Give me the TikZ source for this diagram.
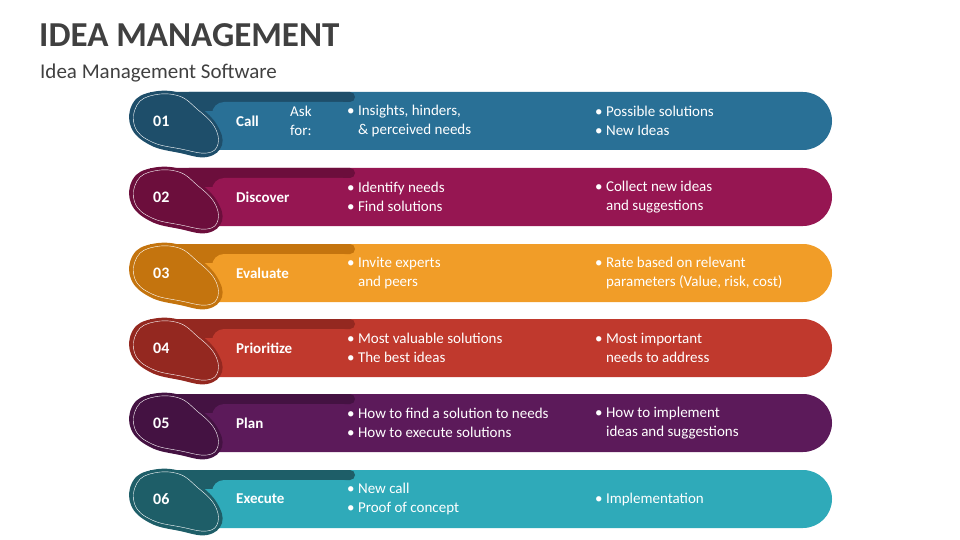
\documentclass[tikz,border=0pt]{standalone}
\usepackage{fontspec}
\setmainfont{Carlito}
\definecolor{m1}{RGB}{41,112,150}\definecolor{d1}{RGB}{30,78,106}
\definecolor{m2}{RGB}{150,22,82}\definecolor{d2}{RGB}{108,14,60}
\definecolor{m3}{RGB}{241,157,40}\definecolor{d3}{RGB}{196,116,14}
\definecolor{m4}{RGB}{192,57,45}\definecolor{d4}{RGB}{148,40,32}
\definecolor{m5}{RGB}{92,26,90}\definecolor{d5}{RGB}{68,18,66}
\definecolor{m6}{RGB}{47,170,185}\definecolor{d6}{RGB}{30,94,104}
\definecolor{ttl}{RGB}{64,64,64}
\tikzset{wt/.style={text=white,font=\fontsize{15}{19}\selectfont,anchor=west,align=left,inner sep=0pt},
 bt/.style={wt,font=\bfseries\fontsize{15}{19}\selectfont}}
\newcommand{\rowx}[7]{%
 \begin{scope}[yshift=#1]
 \fill[#2,rounded corners=29pt] (160,-29) -- (832,-29) -- (832,29) -- (160,29) -- cycle;
 \fill[#3,rounded corners=5pt] (150,-29) rectangle (355,-19);
 \fill[#3] (150,-29) rectangle (230,-10);
 \fill[#2,rounded corners=12pt] (212,-19) -- (355,-19) -- (355,5) -- (212,5) -- cycle;
 \fill[#3] plot[smooth cycle,tension=0.7] coordinates{(133,-18) (152,-29) (180,-28) (200,-14) (217,4) (222,24) (207,36) (180,32) (150,24) (131,6)};
 \draw[white,thin] plot[smooth cycle,tension=0.7] coordinates{(137,-16) (154,-26) (179,-25) (197,-12) (214,5) (218,23) (207,32) (181,28) (152,21) (135,6)};
 \node[bt,font=\bfseries\fontsize{16}{19}\selectfont] (n#4) at (153,0) {#4};
 \node[bt] (t#4) at (236,0) {#5};
 \node[wt] (l#4) at (347,0) {#6};
 \node[wt] (r#4) at (595,0) {#7};
 \end{scope}}
\begin{document}
\begin{tikzpicture}[x=1pt,y=-1pt]
\useasboundingbox (0,0) rectangle (960,540);
\node[anchor=west,inner sep=0pt,text=ttl,font=\bfseries\fontsize{35}{40}\selectfont] (title) at (39,35) {IDEA MANAGEMENT};
\node[anchor=west,inner sep=0pt,text=ttl,font=\fontsize{21}{24}\selectfont] (sub) at (40,73) {Idea Management Software};
\rowx{-121}{m1}{d1}{01}{Call}{• Insights, hinders,\\\hphantom{• }\& perceived needs}{• Possible solutions\\• New Ideas}
\node[wt] (ask) at (290,121) {Ask\\for:};
\rowx{-197}{m2}{d2}{02}{Discover}{• Identify needs\\• Find solutions}{• Collect new ideas\\\hphantom{• }and suggestions}
\rowx{-273}{m3}{d3}{03}{Evaluate}{• Invite experts\\\hphantom{• }and peers}{• Rate based on relevant\\\hphantom{• }parameters (Value, risk, cost)}
\rowx{-348}{m4}{d4}{04}{Prioritize}{• Most valuable solutions\\• The best ideas}{• Most important\\\hphantom{• }needs to address}
\rowx{-423}{m5}{d5}{05}{Plan}{• How to find a solution to needs\\• How to execute solutions}{• How to implement\\\hphantom{• }ideas and suggestions}
\rowx{-499}{m6}{d6}{06}{Execute}{• New call\\• Proof of concept}{• Implementation}
\end{tikzpicture}
\end{document}
